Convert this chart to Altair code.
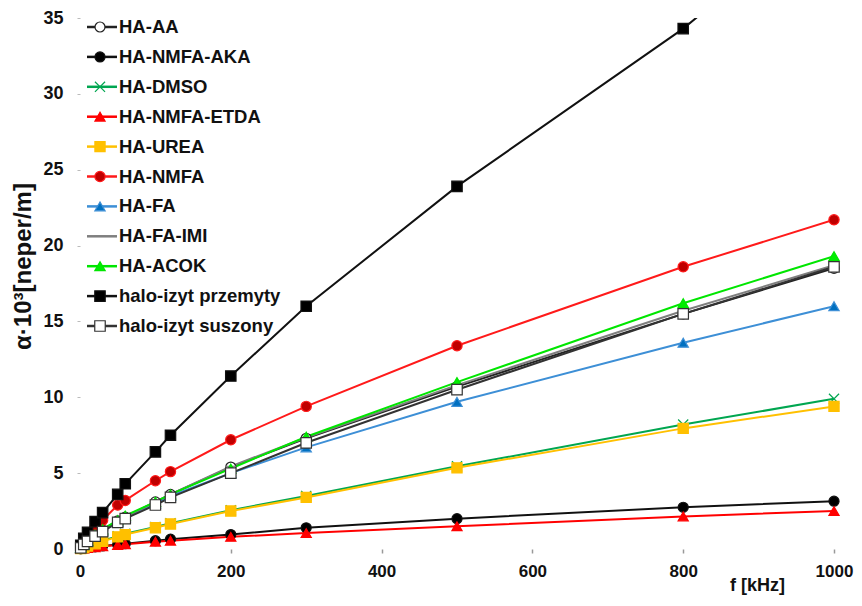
import altair as alt
import pandas as pd

freqs = [1, 5, 10, 20, 30, 50, 60, 100, 120, 200, 300, 500, 800, 1000]

series_names = ["HA-AA", "HA-NMFA-AKA", "HA-DMSO", "HA-NMFA-ETDA", "HA-UREA", "HA-NMFA",
                "HA-FA", "HA-FA-IMI", "HA-ACOK", "halo-izyt przemyty", "halo-izyt suszony"]

ha_aa = [0.08, 0.3, 0.55, 0.9, 1.25, 1.85, 2.1, 3.1, 3.6, 5.4, 7.3, 10.7, 15.5, 18.5]
ha_nmfa_aka = [0.01, 0.04, 0.08, 0.14, 0.2, 0.3, 0.35, 0.55, 0.65, 0.95, 1.4, 2.0, 2.75, 3.15]
ha_dmso = [0.03, 0.12, 0.22, 0.4, 0.55, 0.85, 1.0, 1.45, 1.7, 2.55, 3.5, 5.45, 8.2, 9.9]
ha_nmfa_etda = [0.01, 0.04, 0.07, 0.12, 0.18, 0.27, 0.32, 0.48, 0.55, 0.8, 1.05, 1.5, 2.15, 2.5]
ha_urea = [0.03, 0.1, 0.2, 0.35, 0.5, 0.8, 0.95, 1.4, 1.65, 2.5, 3.4, 5.35, 7.95, 9.4]
ha_nmfa = [0.15, 0.5, 0.9, 1.4, 1.9, 2.9, 3.2, 4.5, 5.1, 7.2, 9.4, 13.4, 18.6, 21.7]
ha_fa = [0.08, 0.3, 0.5, 0.9, 1.2, 1.8, 2.1, 3.0, 3.5, 5.0, 6.7, 9.7, 13.6, 16.0]
ha_fa_imi = [0.08, 0.3, 0.55, 0.9, 1.25, 1.85, 2.1, 3.1, 3.6, 5.45, 7.35, 10.8, 15.7, 18.7]
ha_acok = [0.1, 0.3, 0.55, 0.95, 1.3, 1.9, 2.2, 3.1, 3.6, 5.3, 7.4, 11.0, 16.2, 19.3]
halo_przemyty = [0.25, 0.7, 1.1, 1.8, 2.4, 3.6, 4.3, 6.4, 7.5, 11.4, 16.0, 23.9, 34.3, 42.5]
halo_suszony = [0.08, 0.3, 0.5, 0.85, 1.15, 1.75, 2.0, 2.9, 3.4, 5.0, 7.0, 10.5, 15.5, 18.6]

all_values = [ha_aa, ha_nmfa_aka, ha_dmso, ha_nmfa_etda, ha_urea, ha_nmfa,
              ha_fa, ha_fa_imi, ha_acok, halo_przemyty, halo_suszony]

line_colors = ["#222222", "#111111", "#00a650", "#ff0000", "#ffc000", "#ff1a1a",
               "#3d8fd6", "#7f7f7f", "#00e600", "#111111", "#333333"]
marker_fill = ["#ffffff", "#000000", "#6b8f6b", "#ff0000", "#ffc000", "#c00000",
               "#0070c0", "#666666", "#00ee00", "#000000", "#ffffff"]
marker_shape = ["circle", "circle", "M-1,-1L1,1M-1,1L1,-1", "triangle-up", "square", "circle",
                "triangle-up", "stroke", "triangle-up", "square", "square"]
marker_size = [100, 110, 25, 120, 150, 130, 120, 30, 120, 200, 150]

rows = []
for name, vals in zip(series_names, all_values):
    for f, v in zip(freqs, vals):
        rows.append({"series": name, "f": f, "a": v})
df = pd.DataFrame(rows)

legend_df = pd.DataFrame({"series": series_names, "i": list(range(len(series_names)))})

FONT = "Liberation Sans"
W, H = 754, 531
YMAX = 35

stroke_scale = alt.Scale(domain=series_names, range=line_colors)
fill_scale = alt.Scale(domain=series_names, range=marker_fill)
shape_scale = alt.Scale(domain=series_names, range=marker_shape)
size_scale = alt.Scale(domain=series_names, range=marker_size)

x_enc = alt.X("f:Q", scale=alt.Scale(domain=[0, 1000], nice=False),
              axis=alt.Axis(values=[0, 200, 400, 600, 800, 1000], format="d",
                            domain=False, grid=False, labelFlush=False,
                            tickSize=4, tickColor="#999999", tickWidth=1.5,
                            labelFont=FONT, labelFontSize=17, labelFontWeight="bold",
                            labelColor="#111111", labelPadding=10,
                            title="f [kHz]", titleFont=FONT, titleFontSize=18,
                            titleFontWeight="bold", titleColor="#111111",
                            titleX=677, titleY=36, titleAlign="center",
                            titleBaseline="middle"))
y_enc = alt.Y("a:Q", scale=alt.Scale(domain=[0, YMAX], nice=False),
              axis=alt.Axis(values=list(range(0, 36, 5)), domain=False, grid=False,
                            labelFlush=False,
                            tickSize=3, tickColor="#bbbbbb",
                            labelFont=FONT, labelFontSize=18, labelFontWeight="bold",
                            labelColor="#111111", labelPadding=14,
                            title="α·10³[neper/m]", titleFont=FONT, titleFontSize=24,
                            titleFontWeight="bold", titleColor="#111111",
                            titleAngle=270, titleX=-57, titleY=248,
                            titleAlign="center", titleBaseline="middle"))

base = alt.Chart(df)

lines = base.mark_line(clip=True, strokeWidth=2).encode(
    x=x_enc, y=y_enc,
    stroke=alt.Stroke("series:N", scale=stroke_scale, legend=None),
    detail="series:N",
    order="f:Q",
)

points = base.transform_filter(f"datum.a <= {YMAX}").mark_point(
    filled=True, strokeWidth=1.2, opacity=1).encode(
    x="f:Q", y="a:Q",
    fill=alt.Fill("series:N", scale=fill_scale, legend=None),
    stroke=alt.Stroke("series:N", scale=stroke_scale, legend=None),
    shape=alt.Shape("series:N", scale=shape_scale, legend=None),
    size=alt.Size("series:N", scale=size_scale, legend=None),
)

leg = alt.Chart(legend_df).transform_calculate(
    ly=f"{YMAX} - (9 + 29.9 * datum.i) * {YMAX} / {H}"
)

leg_rule = leg.mark_rule(strokeWidth=2.5).encode(
    x=alt.value(7), x2=alt.value(37),
    y="ly:Q",
    stroke=alt.Stroke("series:N", scale=stroke_scale, legend=None),
)
leg_pts = leg.mark_point(filled=True, strokeWidth=1.2, opacity=1).encode(
    x=alt.value(20),
    y="ly:Q",
    fill=alt.Fill("series:N", scale=fill_scale, legend=None),
    stroke=alt.Stroke("series:N", scale=stroke_scale, legend=None),
    shape=alt.Shape("series:N", scale=shape_scale, legend=None),
    size=alt.Size("series:N", scale=size_scale, legend=None),
)
leg_text = leg.mark_text(align="left", baseline="middle", font=FONT, fontSize=18.5,
                         fontWeight="bold", color="#111111").encode(
    x=alt.value(39),
    y="ly:Q",
    text="series:N",
)

chart = alt.layer(lines, points, leg_rule, leg_pts, leg_text).properties(
    width=W, height=H,
    autosize=alt.AutoSizeParams(type="none"),
    padding={"left": 72, "top": 10, "right": 20, "bottom": 49},
    background="white",
).configure_view(stroke=None)

chart.save("out.html", embed_options={"renderer": "svg", "actions": False})
